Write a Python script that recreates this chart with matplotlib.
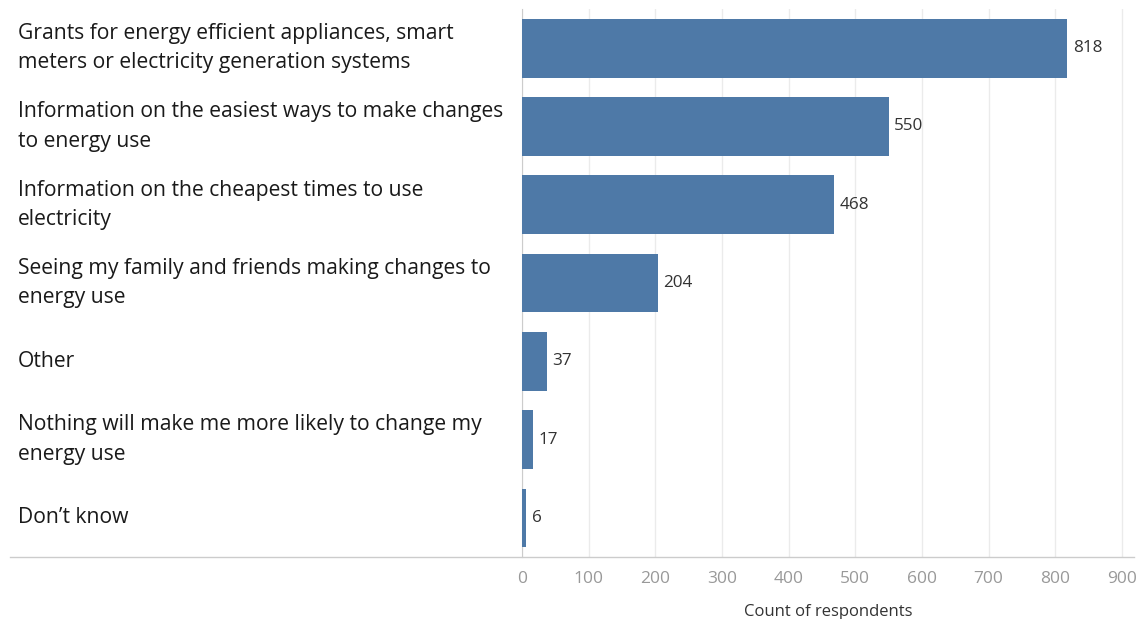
import matplotlib.pyplot as plt
from matplotlib.lines import Line2D
from matplotlib.transforms import blended_transform_factory

# survey responses, top to bottom
categories = [
    'Grants for energy efficient appliances, smart\nmeters or electricity generation systems',
    'Information on the easiest ways to make changes\nto energy use',
    'Information on the cheapest times to use\nelectricity',
    'Seeing my family and friends making changes to\nenergy use',
    'Other',
    'Nothing will make me more likely to change my\nenergy use',
    'Don\u2019t know',
]
counts = [818, 550, 468, 204, 37, 17, 6]
xticks = [0, 100, 200, 300, 400, 500, 600, 700, 800, 900]

plt.rcParams['font.family'] = ['Open Sans', 'DejaVu Sans']

fig = plt.figure(figsize=(11.36, 6.19), dpi=100)
ax = fig.add_axes([522 / 1136, 1 - 557 / 619, 612 / 1136, 548 / 619])

ypos = list(range(len(categories)))
ax.barh(ypos, counts, height=0.75, color='#4e79a7', zorder=3)
ax.set_ylim(len(categories) - 0.5, -0.5)
ax.set_xlim(0, 918)

for y, v in zip(ypos, counts):
    ax.annotate(str(v), (v, y), xytext=(4, 0), textcoords='offset points',
                va='center', ha='left', fontsize=12.3, color='#333333')

# category labels sit at the left edge of the figure
trans = blended_transform_factory(fig.transFigure, ax.transData)
for y, lab in zip(ypos, categories):
    ax.text(18 / 1136, y, lab, transform=trans, ha='left', va='center',
            fontsize=15.2, color='#1a1a1a', linespacing=1.52)

ax.set_yticks([])
ax.set_xticks(xticks)
ax.set_xticklabels([str(t) for t in xticks], color='#999999', fontsize=12.5)
ax.tick_params(axis='x', length=0, pad=10)
ax.grid(axis='x', color='#ebebeb', linewidth=1, zorder=0)
for s in ['top', 'right', 'bottom']:
    ax.spines[s].set_visible(False)
ax.spines['left'].set_color('#cccccc')
ax.set_xlabel('Count of respondents', fontsize=12, color='#333333', labelpad=12)

# baseline runs under the label column as well
fig.add_artist(Line2D([10 / 1136, 1134 / 1136], [1 - 557 / 619, 1 - 557 / 619],
                      transform=fig.transFigure, color='#cccccc', linewidth=1))

plt.savefig('out.png', dpi=100)
